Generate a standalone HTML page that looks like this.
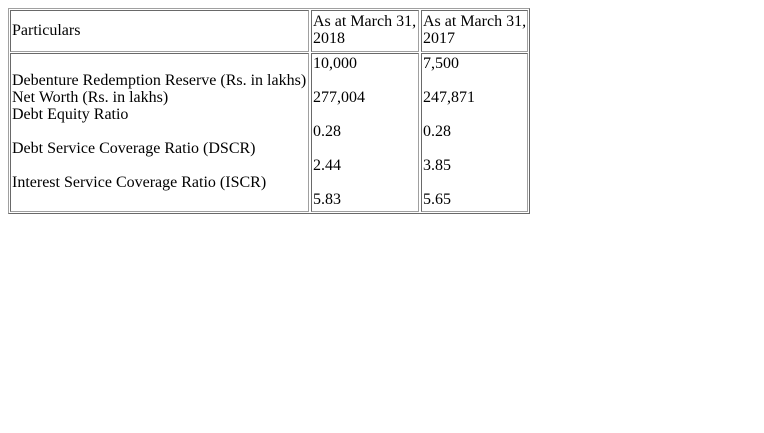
<!DOCTYPE html>
<html><head><meta charset="utf-8"><style>
body{margin:0;width:764px;height:433px;background:#fff;position:relative;font-family:"Liberation Serif",serif;font-size:16px;color:#000;}
.b{position:absolute;box-sizing:border-box;border:1px solid;border-color:#a0a0a0 #696969 #696969 #a0a0a0;}
.c{position:absolute;box-sizing:border-box;border:1px solid;border-color:#696969 #a0a0a0 #a0a0a0 #696969;padding:1px;line-height:17px;white-space:nowrap;}
</style></head><body>
<div class="b" style="left:8px;top:8px;width:522px;height:206px;"></div>
<div class="c" style="left:10px;top:10px;width:299px;height:42px;padding-top:11px;">Particulars</div>
<div class="c" style="left:311px;top:10px;width:108px;height:42px;padding-top:2px;">As at March 31,<br>2018</div>
<div class="c" style="left:421px;top:10px;width:107px;height:42px;padding-top:2px;">As at March 31,<br>2017</div>
<div class="c" style="left:10px;top:53px;width:299px;height:159px;"><br>Debenture Redemption Reserve (Rs. in lakhs)<br>Net Worth (Rs. in lakhs)<br>Debt Equity Ratio<br><br>Debt Service Coverage Ratio (DSCR)<br><br>Interest Service Coverage Ratio (ISCR)</div>
<div class="c" style="left:311px;top:53px;width:108px;height:159px;">10,000<br><br>277,004<br><br>0.28<br><br>2.44<br><br>5.83</div>
<div class="c" style="left:421px;top:53px;width:107px;height:159px;">7,500<br><br>247,871<br><br>0.28<br><br>3.85<br><br>5.65</div>
</body></html>
